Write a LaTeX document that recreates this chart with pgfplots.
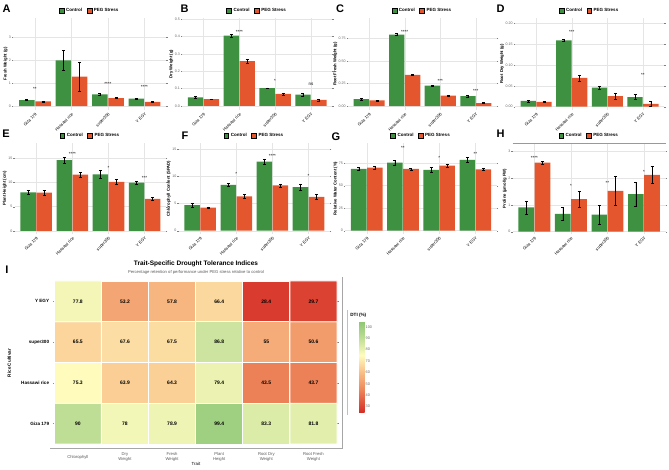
\documentclass[border=0pt]{standalone}
\usepackage{fontspec}
\setmainfont{Liberation Sans}
\usepackage{pgfplots}
\usepackage{pgfplotstable}
\pgfplotsset{compat=1.18}

\definecolor{ctrl}{RGB}{61,145,64}
\definecolor{peg}{RGB}{228,87,46}
\newcommand{\fs}[1]{\fontsize{#1}{#1}\selectfont}

\pgfplotsset{
  /pgf/number format/assume math mode=true,
  sqlegend/.style={legend image code/.code={\fill[##1] (0pt,-2.3pt) rectangle (4.8pt,2.3pt);}},
  barpanel/.style={
    scale only axis,
    anchor=south west,
    xmin=-0.6, xmax=3.6,
    xtick={0,1,2,3},
    xticklabels={Giza 179, Hassawi rice, super300, Y EGY},
    x tick style={draw=none},
    xticklabel style={rotate=45, anchor=north east, font=\fs{4.2}, inner sep=0.8pt},
    yticklabel style={font=\fs{3.6}, text=black!60, inner sep=0.8pt},
    ylabel style={font=\bfseries\fs{4.2}, inner sep=0.5pt},
    axis line style={draw=none},
    tick align=outside,
    major tick length=1.2pt,
    y tick style={black!50, line width=0.3pt},
    xmajorgrids, ymajorgrids,
    grid style={black!10, line width=0.35pt},
    clip=false,
    legend columns=2,
    legend style={at={(0.5,1)}, anchor=south, yshift=3pt, draw=none, fill=none,
      inner sep=0pt, font=\bfseries\fs{4.5},
      /tikz/every even column/.append style={column sep=2.5pt}},
  },
  % dodged bars: each series is moved off the category centre by a fixed offset
  ctrlbar/.style={ybar, bar width=0.43, bar shift=0pt, fill=ctrl, draw=none, forget plot,
    x filter/.expression={x-0.222},
    error bars/.cd, y dir=both, y explicit,
    error bar style={line width=0.4pt, black},
    error mark options={rotate=90, mark size=1.5pt, line width=0.4pt, black}},
  pegbar/.style={ybar, bar width=0.43, bar shift=0pt, fill=peg, draw=none, forget plot,
    x filter/.expression={x+0.222},
    error bars/.cd, y dir=both, y explicit,
    error bar style={line width=0.4pt, black},
    error mark options={rotate=90, mark size=1.5pt, line width=0.4pt, black}},
  stars/.style={only marks, mark=none, forget plot, nodes near coords,
    point meta=explicit symbolic, nodes near coords align={center},
    every node near coord/.append style={font=\fs{4.5}, inner sep=0pt, black}},
}

% drought tolerance index (%) per cultivar (y) and trait (x)
\pgfplotstableread{
x y v
0 0 90
1 0 78
2 0 78.9
3 0 99.4
4 0 83.3
5 0 81.8
0 1 75.3
1 1 63.9
2 1 64.3
3 1 79.4
4 1 43.5
5 1 43.7
0 2 65.5
1 2 67.6
2 2 67.5
3 2 86.8
4 2 55
5 2 50.6
0 3 77.8
1 3 53.2
2 3 57.8
3 3 66.4
4 3 28.4
5 3 29.7
}\dtitable

\begin{document}
\begin{tikzpicture}
\useasboundingbox (0,0) rectangle (669pt,470pt);

% ---------- A: fresh weight ----------
\begin{axis}[barpanel, at={(13.1pt,360pt)}, width=153.3pt, height=92pt,
  ymin=-0.175, ymax=3.86, ytick={0,1,2,3}, ylabel={Fresh Weight (g)}]
\addlegendimage{sqlegend, fill=ctrl}\addlegendentry{Control}
\addlegendimage{sqlegend, fill=peg}\addlegendentry{PEG Stress}
\addplot[ctrlbar] coordinates {(0,0.26) +- (0,0.02) (1,2.00) +- (0,0.45) (2,0.51) +- (0,0.03) (3,0.32) +- (0,0.03)};
\addplot[pegbar] coordinates {(0,0.205) +- (0,0.02) (1,1.29) +- (0,0.63) (2,0.345) +- (0,0.02) (3,0.185) +- (0,0.02)};
\addplot[stars] coordinates {(0,0.75)[**] (2,0.96)[****] (3,0.83)[****]};
\end{axis}

% ---------- B: dry weight ----------
\begin{axis}[barpanel, at={(182pt,360pt)}, width=150.4pt, height=92pt,
  ymin=-0.023, ymax=0.506, ytick={0,0.1,0.2,0.3,0.4,0.5},
  yticklabel style={/pgf/number format/.cd, fixed, fixed zerofill, precision=1},
  ylabel={Dry Weight (g)}]
\addlegendimage{sqlegend, fill=ctrl}\addlegendentry{Control}
\addlegendimage{sqlegend, fill=peg}\addlegendentry{PEG Stress}
\addplot[ctrlbar] coordinates {(0,0.050) +- (0,0.005) (1,0.404) +- (0,0.008) (2,0.103) +- (0,0.002) (3,0.065) +- (0,0.006)};
\addplot[pegbar] coordinates {(0,0.039) +- (0,0.002) (1,0.258) +- (0,0.010) (2,0.0696) +- (0,0.006) (3,0.0346) +- (0,0.006)};
\addplot[stars] coordinates {(1,0.425)[****] (2,0.144)[*] (3,0.126)[ns]};
\end{axis}

% ---------- C: root fresh weight ----------
\begin{axis}[barpanel, at={(347.9pt,360pt)}, width=149.2pt, height=92pt,
  ymin=-0.044, ymax=0.973, ytick={0,0.25,0.5,0.75},
  yticklabel style={/pgf/number format/.cd, fixed, fixed zerofill, precision=2},
  ylabel={Root Fresh Weight (g)}]
\addlegendimage{sqlegend, fill=ctrl}\addlegendentry{Control}
\addlegendimage{sqlegend, fill=peg}\addlegendentry{PEG Stress}
\addplot[ctrlbar] coordinates {(0,0.075) +- (0,0.008) (1,0.79) +- (0,0.01) (2,0.225) +- (0,0.003) (3,0.11) +- (0,0.01)};
\addplot[pegbar] coordinates {(0,0.0614) +- (0,0.004) (1,0.345) +- (0,0.008) (2,0.114) +- (0,0.01) (3,0.0327) +- (0,0.004)};
\addplot[stars] coordinates {(1,0.82)[****] (2,0.277)[***] (3,0.166)[***]};
\end{axis}

% ---------- D: root dry weight ----------
\begin{axis}[barpanel, at={(514.8pt,360pt)}, width=149.5pt, height=92pt,
  ymin=-0.008, ymax=0.213, ytick={0,0.05,0.1,0.15,0.2},
  yticklabel style={/pgf/number format/.cd, fixed, fixed zerofill, precision=2},
  ylabel={Root Dry Weight (g)}]
\addlegendimage{sqlegend, fill=ctrl}\addlegendentry{Control}
\addlegendimage{sqlegend, fill=peg}\addlegendentry{PEG Stress}
\addplot[ctrlbar] coordinates {(0,0.0137) +- (0,0.002) (1,0.159) +- (0,0.002) (2,0.046) +- (0,0.004) (3,0.0232) +- (0,0.006)};
\addplot[pegbar] coordinates {(0,0.0114) +- (0,0.0015) (1,0.0692) +- (0,0.007) (2,0.0253) +- (0,0.008) (3,0.0066) +- (0,0.006)};
\addplot[stars] coordinates {(1,0.18)[***] (3,0.076)[**]};
\end{axis}

% ---------- E: plant height ----------
\begin{axis}[barpanel, at={(14.5pt,236pt)}, width=151.8pt, height=91pt,
  ymin=-0.62, ymax=18.1, ytick={0,5,10,15}, ylabel={Plant Height (cm)}]
\addlegendimage{sqlegend, fill=ctrl}\addlegendentry{Control}
\addlegendimage{sqlegend, fill=peg}\addlegendentry{PEG Stress}
\addplot[ctrlbar] coordinates {(0,7.95) +- (0,0.4) (1,14.6) +- (0,0.6) (2,11.65) +- (0,0.8) (3,9.95) +- (0,0.3)};
\addplot[pegbar] coordinates {(0,7.9) +- (0,0.5) (1,11.6) +- (0,0.5) (2,10.1) +- (0,0.5) (3,6.6) +- (0,0.3)};
\addplot[stars] coordinates {(1,15.9)[****] (2,13.05)[*] (3,11.0)[***]};
\end{axis}

% ---------- F: chlorophyll ----------
\begin{axis}[barpanel, at={(178.5pt,236pt)}, width=151.7pt, height=91pt,
  ymin=-0.6, ymax=16.1, ytick={0,5,10,15}, ylabel={Chlorophyll Content (SPAD)}]
\addlegendimage{sqlegend, fill=ctrl}\addlegendentry{Control}
\addlegendimage{sqlegend, fill=peg}\addlegendentry{PEG Stress}
\addplot[ctrlbar] coordinates {(0,4.7) +- (0,0.4) (1,8.4) +- (0,0.3) (2,12.7) +- (0,0.5) (3,8.0) +- (0,0.6)};
\addplot[pegbar] coordinates {(0,4.25) +- (0,0.15) (1,6.3) +- (0,0.4) (2,8.3) +- (0,0.3) (3,6.2) +- (0,0.5)};
\addplot[stars] coordinates {(1,10.35)[*] (2,13.76)[****] (3,10.0)[*]};
\end{axis}

% ---------- G: relative water content ----------
\begin{axis}[barpanel, at={(345.1pt,236pt)}, width=151.9pt, height=91pt,
  ymin=-3.7, ymax=97.4, ytick={0,25,50,75}, ylabel={Relative Water Content (\%)}]
\addlegendimage{sqlegend, fill=ctrl}\addlegendentry{Control}
\addlegendimage{sqlegend, fill=peg}\addlegendentry{PEG Stress}
\addplot[ctrlbar] coordinates {(0,68.6) +- (0,1.5) (1,75.6) +- (0,2.5) (2,67.4) +- (0,3) (3,78.6) +- (0,2.5)};
\addplot[pegbar] coordinates {(0,70.0) +- (0,1.5) (1,68.6) +- (0,1) (2,72.2) +- (0,2) (3,68.2) +- (0,1.5)};
\addplot[stars] coordinates {(1,91.6)[**] (2,81)[*] (3,85.2)[**]};
\end{axis}

% ---------- H: proline ----------
\begin{axis}[barpanel, at={(512.5pt,236pt)}, width=153.4pt, height=91pt,
  ymin=-0.087, ymax=3.30, ytick={0,1,2,3}, ylabel={Proline (µmol/g FW)}]
\addlegendimage{sqlegend, fill=ctrl}\addlegendentry{Control}
\addlegendimage{sqlegend, fill=peg}\addlegendentry{PEG Stress}
\addplot[ctrlbar] coordinates {(0,0.9) +- (0,0.25) (1,0.66) +- (0,0.25) (2,0.63) +- (0,0.35) (3,1.40) +- (0,0.45)};
\addplot[pegbar] coordinates {(0,2.57) +- (0,0.05) (1,1.21) +- (0,0.3) (2,1.52) +- (0,0.55) (3,2.11) +- (0,0.32)};
\addplot[stars] coordinates {(0,2.75)[****] (1,1.71)[*] (2,1.82)[**] (3,2.23)[*]};
\draw[black!40, line width=0.5pt] (rel axis cs:0,1) -- (rel axis cs:1,1);
\end{axis}

% ---------- I: drought tolerance heatmap ----------
\begin{axis}[at={(54.3pt,26pt)}, anchor=south west, scale only axis,
  width=282.7pt, height=163pt,
  xmin=-0.5, xmax=5.5, ymin=-0.5, ymax=3.5,
  axis line style={draw=none},
  xtick={0,...,5},
  xticklabels={Chlorophyll,{Dry\\Weight},{Fresh\\Weight},{Plant\\Height},{Root Dry\\Weight},{Root Fresh\\Weight}},
  xticklabel style={anchor=center, yshift=-11.5pt, align=center, font=\fs{4.2}, text=black!65},
  x tick style={draw=none},
  ytick={0,...,3},
  yticklabels={Giza 179,Hassawi rice,super300,Y EGY},
  yticklabel style={font=\bfseries\fs{4.6}, inner sep=0.5pt, xshift=-3pt},
  y tick style={black!50, line width=0.3pt},
  tick align=outside, major tick length=1.5pt,
  colormap={dti}{rgb255(25)=(213,45,38) rgb255(45)=(238,135,90) rgb255(60)=(248,190,135) rgb255(75)=(255,252,190) rgb255(90)=(190,222,150) rgb255(105)=(140,198,115)},
  point meta min=25, point meta max=105,
  colorbar,
  colorbar style={at={(parent axis.south east)}, anchor=south west,
    xshift=13.7pt, yshift=31.7pt, width=5.3pt, height=91.3pt, scale only axis,
    ytick={30,40,50,60,70,80,90,100},
    yticklabel style={font=\fs{3.8}, text=black!60, inner sep=1pt},
    major tick length=0pt, axis line style={draw=none},
    /pgf/number format/assume math mode=true},
  clip=false]
\addplot[matrix plot*, mesh/cols=6, point meta=explicit, draw=white, line width=0.9pt] table[x=x, y=y, meta=v] {\dtitable};
\addplot[only marks, mark=none, nodes near coords, point meta=explicit symbolic,
  nodes near coords align={center},
  every node near coord/.append style={font=\bfseries\fs{5}, black, inner sep=0pt}]
  table[x=x, y=y, meta=v] {\dtitable};
\end{axis}

% frame lines around the heatmap panel and its legend
\draw[black!35, line width=0.5pt] (50pt,21.7pt) -- (342pt,21.7pt) -- (342pt,193.3pt);
\draw[black!25, line width=0.4pt] (347.5pt,55pt) -- (347.5pt,160pt);

% heatmap titles and axis names
\node[font=\bfseries\fs{6.5}] at (196pt,206pt) {Trait-Specific Drought Tolerance Indices};
\node[font=\fs{4.2}, text=black!65] at (196pt,198pt) {Percentage retention of performance under PEG stress relative to control};
\node[font=\fs{4.4}] at (196pt,6pt) {Trait};
\node[font=\bfseries\fs{4.6}, rotate=90] at (9.3pt,107pt) {Rice Cultivar};
\node[font=\bfseries\fs{4.6}, anchor=west, inner sep=0pt] at (350.2pt,155pt) {DTI (\%)};

% panel letters
\node[font=\bfseries\fs{11}] at (6.5pt,461.5pt) {A};
\node[font=\bfseries\fs{11}] at (184.5pt,461.5pt) {B};
\node[font=\bfseries\fs{11}] at (340pt,461.5pt) {C};
\node[font=\bfseries\fs{11}] at (500.5pt,461.5pt) {D};
\node[font=\bfseries\fs{11}] at (6pt,336.5pt) {E};
\node[font=\bfseries\fs{11}] at (185pt,334pt) {F};
\node[font=\bfseries\fs{11}] at (336pt,333.5pt) {G};
\node[font=\bfseries\fs{11}] at (500.5pt,336.5pt) {H};
\node[font=\bfseries\fs{11}] at (7pt,200pt) {I};
\end{tikzpicture}
\end{document}
